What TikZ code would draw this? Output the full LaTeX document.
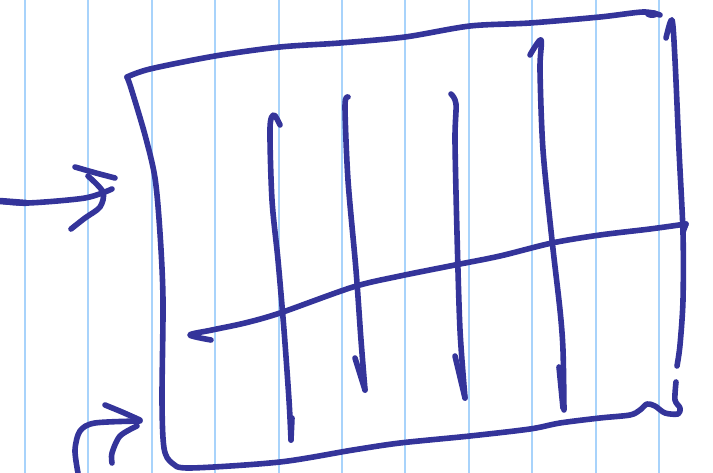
\documentclass[tikz,border=0pt]{standalone}
\usepackage{tikz}
\definecolor{inkblue}{HTML}{34349A}
\definecolor{rulingblue}{HTML}{A8D3FB}
\tikzset{
  ruling/.style={rulingblue,line width=2pt},
  ink/.style={inkblue,line width=5.6pt,line cap=round,line join=round},
}
\begin{document}
\begin{tikzpicture}[x=1pt,y=-1pt]
  \fill[white] (0,0) rectangle (713,473);
  \useasboundingbox (0,0) rectangle (713,473);
  % ruled paper
  \foreach \i in {0,...,10} \draw[ruling] (25+63.4*\i,0) -- (25+63.4*\i,473);
  % outer frame
  \draw[ink] plot[smooth,tension=0.5] coordinates {(660,15) (643,12) (600,17) (530,23) (470,26) (405,37) (340,43) (280,47) (215,56) (150,69) (127,77)};
  \draw[ink] plot[smooth,tension=0.5] coordinates {(127,77) (131,88) (145,135) (155,178) (160,233) (163,300) (162,400) (164,448) (172,463) (190,468) (280,462) (353,450) (400,443) (470,436) (530,429) (560,423) (600,418) (630,415) (640,410) (647,404) (655,406) (665,413) (678,414) (680,408) (675,400) (676,382)};
  \draw[ink] plot[smooth,tension=0.5] coordinates {(666,38) (672,20) (675,60) (679,150) (683,233) (683,300) (680,345) (677,366)};
  \fill[inkblue] (652,14) ellipse (7pt and 4pt);
  % horizontal stroke
  \draw[ink] plot[smooth,tension=0.5] coordinates {(211,340) (190,335) (212,330) (245,323) (280,313) (353,287) (400,276) (455,265) (500,256) (552,243) (600,235) (650,229) (686,224)};
  \draw[ink] (686,224) -- (683,232);
  % downward strokes
  \draw[ink] plot[smooth,tension=0.5] coordinates {(280,125) (274,115) (270,128) (272,200) (278,260) (284,330) (289,400) (291,440)};
  \draw[ink] (292,418) -- (291,440);
  \draw[ink] plot[smooth,tension=0.5] coordinates {(348,97) (345,106) (348,180) (356,270) (361,340) (365,390)};
  \draw[ink] (355,358) -- (365,390);
  \draw[ink] plot[smooth,tension=0.5] coordinates {(451,94) (456,104) (455,140) (457,233) (460,330) (465,398)};
  \draw[ink] (455,356) -- (465,398);
  \draw[ink] plot[smooth,tension=0.5] coordinates {(530,55) (541,40) (540,70) (543,150) (552,240) (560,310) (563,350) (564,410)};
  \draw[ink] (559,367) -- (563,408);
  % incoming arrows
  \draw[ink,line width=6.5pt] (0,201) -- (26,203);
  \draw[ink] plot[smooth,tension=0.5] coordinates {(0,201) (28,203) (85,198) (112,189)};
  \draw[ink] plot[smooth,tension=0.5] coordinates {(75,167) (96,173) (115,178)};
  \draw[ink] plot[smooth,tension=0.5] coordinates {(88,176) (103,192) (100,207) (85,218) (71,229)};
  \draw[ink] plot[smooth,tension=0.5] coordinates {(78,473) (75,450) (80,431) (95,423) (140,421)};
  \draw[ink] plot[smooth,tension=0.5] coordinates {(105,405) (122,412) (140,420)};
  \draw[ink] plot[smooth,tension=0.5] coordinates {(137,426) (120,436) (112,453) (112,463)};
\end{tikzpicture}
\end{document}
